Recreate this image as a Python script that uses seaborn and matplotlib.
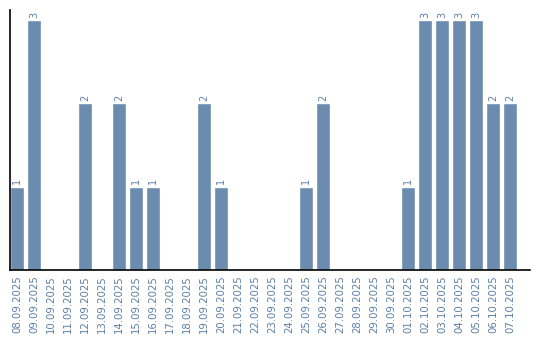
import matplotlib
matplotlib.use("Agg")
import matplotlib.pyplot as plt
import seaborn as sns
import pandas as pd

dates = ["08.09.2025", "09.09.2025", "10.09.2025", "11.09.2025", "12.09.2025",
         "13.09.2025", "14.09.2025", "15.09.2025", "16.09.2025", "17.09.2025",
         "18.09.2025", "19.09.2025", "20.09.2025", "21.09.2025", "22.09.2025",
         "23.09.2025", "24.09.2025", "25.09.2025", "26.09.2025", "27.09.2025",
         "28.09.2025", "29.09.2025", "30.09.2025", "01.10.2025", "02.10.2025",
         "03.10.2025", "04.10.2025", "05.10.2025", "06.10.2025", "07.10.2025"]
counts = [1, 3, 0, 0, 2, 0, 2, 1, 1, 0, 0, 2, 1, 0, 0, 0, 0, 1, 2, 0,
          0, 0, 0, 1, 3, 3, 3, 3, 2, 2]

sns.set_style("white")
plt.rcParams['font.family'] = ['DejaVu Sans']

df = pd.DataFrame({"date": dates, "count": counts})
fig = plt.figure(figsize=(5.4, 3.4), dpi=100)
ax = fig.add_axes([10/540, 70/340, 520/540, 260/340])
bar_color = "#6b8cae"
text_color = "#5b7fa6"
sns.barplot(data=df, x="date", y="count", color=bar_color, width=0.82,
            saturation=1, ax=ax, order=dates)
for i, v in enumerate(counts):
    if v > 0:
        ax.text(i, v + 0.03, str(v), rotation=90, ha="center", va="bottom",
                fontsize=7, color=text_color)
ax.set_xlim(-0.41, 30.18)
ax.set_ylim(0, 3.12)
ax.set_xlabel("")
ax.set_ylabel("")
ax.set_yticks([])
ax.tick_params(axis="x", length=0, pad=4, labelsize=7.3, labelcolor=text_color,
               rotation=90)
for s in ["top", "right"]:
    ax.spines[s].set_visible(False)
for s in ["left", "bottom"]:
    ax.spines[s].set_color("black")
    ax.spines[s].set_linewidth(1.2)
fig.savefig("out.png", dpi=100)
